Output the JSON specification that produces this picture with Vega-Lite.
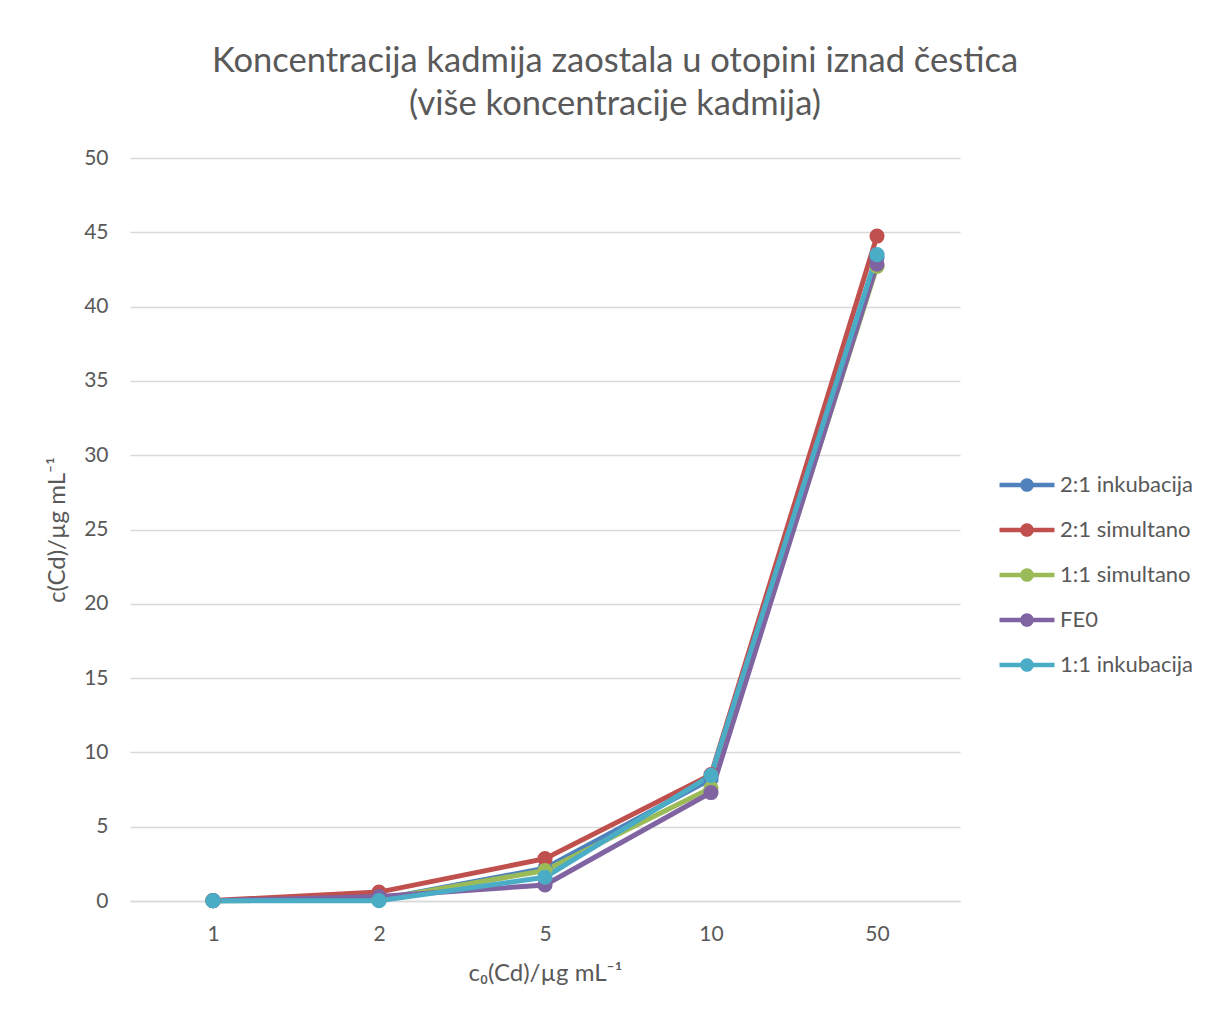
{
  "$schema": "https://vega.github.io/schema/vega-lite/v6.json",
  "width": 830,
  "height": 743,
  "autosize": {"type": "none"},
  "padding": {"left": 130, "top": 158, "right": 248, "bottom": 110},
  "background": "white",
  "title": {
    "text": ["Koncentracija kadmija zaostala u otopini iznad čestica", "(više koncentracije kadmija)"],
    "font": "Lato",
    "fontSize": 34.5,
    "fontWeight": "normal",
    "color": "#595959",
    "anchor": "middle",
    "dx": 70,
    "offset": 25,
    "lineHeight": 43
  },
  "data": {
    "values": [
      {"c0": "1", "serija": "2:1 inkubacija", "c": 0.02},
      {"c0": "2", "serija": "2:1 inkubacija", "c": 0.1},
      {"c0": "5", "serija": "2:1 inkubacija", "c": 2.2},
      {"c0": "10", "serija": "2:1 inkubacija", "c": 8.2},
      {"c0": "50", "serija": "2:1 inkubacija", "c": 43.3},
      {"c0": "1", "serija": "2:1 simultano", "c": 0.03},
      {"c0": "2", "serija": "2:1 simultano", "c": 0.6},
      {"c0": "5", "serija": "2:1 simultano", "c": 2.85},
      {"c0": "10", "serija": "2:1 simultano", "c": 8.5},
      {"c0": "50", "serija": "2:1 simultano", "c": 44.75},
      {"c0": "1", "serija": "1:1 simultano", "c": 0.02},
      {"c0": "2", "serija": "1:1 simultano", "c": 0.1},
      {"c0": "5", "serija": "1:1 simultano", "c": 2.05},
      {"c0": "10", "serija": "1:1 simultano", "c": 7.6},
      {"c0": "50", "serija": "1:1 simultano", "c": 42.7},
      {"c0": "1", "serija": "FE0", "c": 0.02},
      {"c0": "2", "serija": "FE0", "c": 0.3},
      {"c0": "5", "serija": "FE0", "c": 1.08},
      {"c0": "10", "serija": "FE0", "c": 7.3},
      {"c0": "50", "serija": "FE0", "c": 42.85},
      {"c0": "1", "serija": "1:1 inkubacija", "c": 0.02},
      {"c0": "2", "serija": "1:1 inkubacija", "c": 0.02},
      {"c0": "5", "serija": "1:1 inkubacija", "c": 1.6},
      {"c0": "10", "serija": "1:1 inkubacija", "c": 8.45},
      {"c0": "50", "serija": "1:1 inkubacija", "c": 43.5}
    ]
  },
  "mark": {
    "type": "line",
    "strokeWidth": 5,
    "point": {"filled": true, "size": 230}
  },
  "encoding": {
    "x": {
      "field": "c0",
      "type": "ordinal",
      "sort": ["1", "2", "5", "10", "50"],
      "scale": {"type": "point", "padding": 0.5},
      "axis": {
        "title": "c₀(Cd)/µg mL⁻¹",
        "titleFont": "Lato",
        "titleFontSize": 24,
        "titleFontWeight": "normal",
        "titleColor": "#595959",
        "titlePadding": 17,
        "labelFont": "Lato",
        "labelFontSize": 21,
        "labelColor": "#595959",
        "labelPadding": 22,
        "labelAngle": 0,
        "ticks": false,
        "domain": true,
        "domainColor": "#D9D9D9",
        "domainWidth": 1.5,
        "grid": false
      }
    },
    "y": {
      "field": "c",
      "type": "quantitative",
      "scale": {"domain": [0, 50], "nice": false, "zero": true},
      "axis": {
        "title": "c(Cd)/µg mL⁻¹",
        "titleFont": "Lato",
        "titleFontSize": 24,
        "titleFontWeight": "normal",
        "titleColor": "#595959",
        "titlePadding": 14,
        "labelFont": "Lato",
        "labelFontSize": 21,
        "labelColor": "#595959",
        "labelPadding": 22,
        "values": [0, 5, 10, 15, 20, 25, 30, 35, 40, 45, 50],
        "ticks": false,
        "domain": false,
        "grid": true,
        "gridColor": "#D9D9D9",
        "gridWidth": 1.5
      }
    },
    "color": {
      "field": "serija",
      "type": "nominal",
      "sort": ["2:1 inkubacija", "2:1 simultano", "1:1 simultano", "FE0", "1:1 inkubacija"],
      "scale": {
        "domain": ["2:1 inkubacija", "2:1 simultano", "1:1 simultano", "FE0", "1:1 inkubacija"],
        "range": ["#4F81BD", "#C0504D", "#9BBB59", "#8064A2", "#4BACC6"]
      },
      "legend": {
        "title": null,
        "orient": "none",
        "legendX": 886,
        "legendY": 316,
        "padding": 0,
        "symbolType": "M-2.5,-0.2H2.5V0.2H-2.5Z M0.62,0A0.62,0.62,0,1,1,-0.62,0A0.62,0.62,0,1,1,0.62,0Z",
        "symbolSize": 484,
        "symbolStrokeWidth": 0,
        "labelFont": "Lato",
        "labelFontSize": 22,
        "labelColor": "#595959",
        "labelOffset": 22,
        "rowPadding": 23,
        "encode": {
          "symbols": {
            "update": {
              "fill": {"scale": "color", "field": "value"},
              "stroke": {"value": "transparent"},
              "opacity": {"value": 1}
            }
          }
        }
      }
    }
  },
  "config": {"view": {"stroke": null}}
}
